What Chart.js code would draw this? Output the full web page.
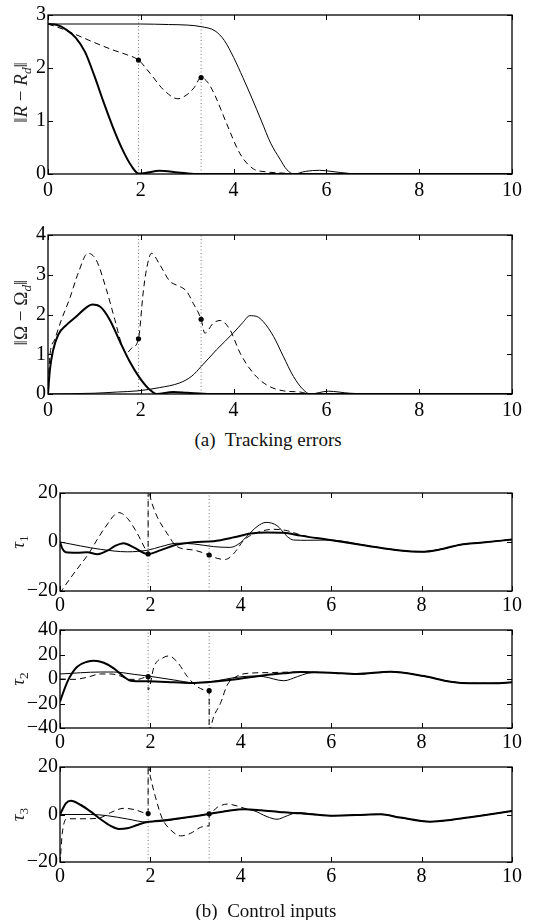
<!DOCTYPE html>
<html>
<head>
<meta charset="utf-8">
<script src="https://cdn.jsdelivr.net/npm/chart.js@4.4.1/dist/chart.umd.min.js"></script>
<style>
  body { margin: 0; background: #fff; width: 544px; height: 920px; position: relative; overflow: hidden;
         font-family: 'Liberation Serif', 'DejaVu Serif', serif; }
  canvas { position: absolute; left: 0; }
  .cap { position: absolute; text-align: center; font-size: 19px; line-height: 19px; color: #111; white-space: pre; }
</style>
</head>
<body>
<canvas id="c1" width="544" height="204" style="top:0px"></canvas>
<canvas id="c2" width="544" height="204" style="top:220px"></canvas>
<div class="cap" style="left:0;width:536px;top:430px">(a)  Tracking errors</div>
<canvas id="c3" width="544" height="143" style="top:478px"></canvas>
<canvas id="c4" width="544" height="143" style="top:615px"></canvas>
<canvas id="c5" width="544" height="140" style="top:752px"></canvas>
<div class="cap" style="left:0;width:532px;top:901px">(b)  Control inputs</div>

<script>
// switching instants (dotted lines and dots)
const switchT = [1.95, 3.3];
const xTicks = [0, 2, 4, 6, 8, 10];

// ||R - Rd||
const rThickT = [0, 0.2, 0.4, 0.6, 0.8, 1.0, 1.2, 1.4, 1.6, 1.8, 1.95, 2.1, 2.4, 2.8, 3.2, 10];
const rThickV = [2.83, 2.81, 2.72, 2.57, 2.3, 1.85, 1.35, 0.88, 0.47, 0.15, 0.01, 0.02, 0.06, 0.03, 0, 0];
const rThinT = [0, 2, 2.6, 3.0, 3.3, 3.6, 3.8, 4.0, 4.2, 4.4, 4.6, 4.8, 5.0, 5.15, 5.3, 5.55, 5.85, 6.1, 6.5, 7, 10];
const rThinV = [2.83, 2.83, 2.82, 2.81, 2.78, 2.7, 2.52, 2.2, 1.82, 1.42, 1.0, 0.58, 0.28, 0.08, 0, 0.05, 0.07, 0.05, 0.01, 0, 0];
const rDashT = [0, 0.3, 0.6, 1.0, 1.4, 1.7, 1.95, 2.2, 2.5, 2.8, 3.0, 3.15, 3.3, 3.45, 3.6, 3.85, 4.14, 4.42, 4.71, 5.0, 5.5, 10];
const rDashV = [2.83, 2.74, 2.63, 2.48, 2.34, 2.25, 2.15, 1.9, 1.58, 1.42, 1.5, 1.63, 1.82, 1.72, 1.48, 0.95, 0.38, 0.1, 0.04, 0.02, 0, 0];
const rDots = [2.15, 1.82];

// ||Omega - Omega_d||
const wThickT = [0, 0.04, 0.11, 0.22, 0.4, 0.61, 0.83, 0.95, 1.12, 1.33, 1.55, 1.76, 1.98, 2.19, 2.34, 2.7, 3.0, 3.5, 10];
const wThickV = [0, 0.6, 1.1, 1.49, 1.74, 1.95, 2.18, 2.25, 2.2, 1.87, 1.32, 0.82, 0.4, 0.11, 0, 0.05, 0.03, 0, 0];
const wThinT = [0, 1.0, 1.5, 1.94, 2.4, 2.84, 3.1, 3.3, 3.63, 3.99, 4.2, 4.35, 4.5, 4.64, 4.86, 5.07, 5.29, 5.5, 5.65, 6.04, 6.5, 7, 10];
const wThinV = [0, 0.02, 0.05, 0.08, 0.16, 0.28, 0.45, 0.69, 1.11, 1.53, 1.8, 1.97, 1.95, 1.82, 1.45, 0.95, 0.44, 0.11, 0, 0.07, 0.02, 0, 0];
const wDashT = [0, 0.04, 0.14, 0.29, 0.47, 0.65, 0.86, 1.04, 1.26, 1.44, 1.58, 1.69, 1.8, 1.95, 2.05, 2.12, 2.23, 2.41, 2.63, 2.77, 2.99, 3.13, 3.3, 3.38, 3.56, 3.71, 3.92, 4.14, 4.42, 4.71, 5.07, 5.43, 5.65, 10];
const wDashV = [0, 0.95, 1.36, 1.87, 2.41, 3.04, 3.54, 3.37, 2.62, 1.87, 1.28, 1.03, 1.15, 1.39, 2.54, 3.12, 3.54, 3.25, 2.83, 2.74, 2.58, 2.28, 1.88, 1.53, 1.78, 1.85, 1.62, 1.03, 0.53, 0.23, 0.08, 0.05, 0, 0];
const wDots = [1.39, 1.88];

// tau1
const t1ThickT = [0, 0.05, 0.13, 0.38, 0.6, 0.83, 1.05, 1.23, 1.41, 1.64, 1.95, 2.23, 2.59, 2.96, 3.4, 3.85, 4.22, 4.58, 4.95, 5.32, 5.98, 6.79, 7.53, 7.99, 8.42, 8.86, 9.3, 10];
const t1ThickV = [0, -2.6, -4.2, -4.4, -4.2, -5, -3.5, -1.5, -0.5, -2.3, -4.9, -3.3, -1, -0.1, 0.3, 1.9, 3.5, 3.9, 3.8, 2.6, 0.8, -1.5, -3.5, -4, -3, -1.1, -0.3, 1];
const t1ThinT = [0, 0.9, 1.49, 1.95, 2.23, 2.59, 2.96, 3.4, 3.77, 3.99, 4.14, 4.36, 4.56, 4.8, 5.03, 5.17, 5.47, 5.98, 6.79, 7.53, 7.99, 8.42, 8.86, 9.3, 10];
const t1ThinV = [0, -3, -4, -3.3, -1.9, -0.5, -0.8, -1.9, -2.2, -0.3, 2.4, 6.3, 8, 6.7, 2.2, 0.8, 0.7, 0.8, -1.5, -3.5, -4, -3, -1.1, -0.3, 1];
const t1DashT = [0, 0.05, 0.38, 0.64, 0.79, 1.0, 1.3, 1.49, 1.71, 1.86, 1.95, 1.95, 2.03, 2.15, 2.37, 2.59, 2.96, 3.3, 3.48, 3.66, 3.85, 4.07, 4.36, 4.73, 5.03, 5.32, 5.98, 6.79, 7.53, 7.99, 8.42, 8.86, 9.3, 10];
const t1DashV = [-21, -19.5, -11, -4.6, 0, 6, 12, 9.7, 3.5, -1.9, -4.9, 21, 16, 10.3, 3.5, -1.9, -3.3, -5.3, -6.7, -7.1, -4.6, 0.8, 3.8, 5.2, 4.6, 2.9, 0.8, -1.5, -3.5, -4, -3, -1.1, -0.3, 1];
const t1Dots = [-4.9, -5.3];

// tau2
const t2ThickT = [0, 0.09, 0.2, 0.38, 0.6, 0.75, 0.97, 1.19, 1.41, 1.56, 1.93, 2.52, 2.89, 3.26, 3.85, 4.29, 4.95, 5.32, 5.98, 6.57, 7.31, 8.05, 8.64, 9.08, 9.6, 10];
const t2ThickV = [-18.5, -9, 0.5, 10, 14.1, 15, 13.3, 8.7, 1.9, -1.4, -1.9, -2.7, -3.3, -2.7, -0.5, 1.9, 4.6, 5.7, 5.2, 4.1, 6, 2.4, -2.2, -3.5, -3.5, -2.7];
const t2ThinT = [0, 0.9, 1.19, 1.64, 1.95, 2.52, 2.96, 3.4, 3.85, 4.29, 4.51, 4.95, 5.25, 5.47, 5.76, 6.57, 7.31, 8.05, 8.64, 9.08, 9.6, 10];
const t2ThinV = [4.1, 5.7, 5.7, 3.8, 2.4, -0.8, -3, -1.9, 1.1, 2.4, 1.9, -1.4, 1.9, 4.6, 5.4, 4.1, 6, 2.4, -2.2, -3.5, -3.5, -2.7];
const t2DashT = [0, 0.31, 0.6, 0.9, 1.12, 1.34, 1.53, 1.71, 1.95, 1.95, 2.08, 2.3, 2.4, 2.59, 2.82, 3.04, 3.3, 3.3, 3.4, 3.55, 3.7, 3.92, 4.14, 4.58, 5.32, 5.98, 6.57, 7.31, 8.05, 8.64, 9.08, 9.6, 10];
const t2DashV = [0, -0.3, 1.4, 4.1, 4.1, 2.4, -0.3, -0.3, 1.9, -9, 10, 17.7, 18.8, 14.1, 1.9, -6.3, -9.5, -42, -30.7, -19.9, -4.9, 2.4, 4.6, 5.2, 5.7, 5.2, 4.1, 6, 2.4, -2.2, -3.5, -3.5, -2.7];
const t2Dots = [1.9, -9.5];

// tau3
const t3ThickT = [0, 0.13, 0.24, 0.46, 0.68, 0.9, 1.12, 1.3, 1.49, 1.71, 1.93, 2.37, 2.82, 3.29, 3.7, 4.07, 4.44, 4.95, 5.32, 5.98, 6.57, 7.09, 7.53, 8.19, 8.64, 9.15, 9.67, 10];
const t3ThickV = [0, 4.7, 5.8, 4, 1.2, -2, -4.8, -6.1, -5.8, -4.4, -3.2, -2.3, -1.2, 0.2, 1.5, 2.2, 1.8, 0.9, 0.5, -0.5, -0.2, 0.1, -1.3, -3, -2.3, -0.9, 0.5, 1.5];
const t3ThinT = [0, 0.68, 1.05, 1.49, 1.93, 2.37, 2.82, 3.29, 3.7, 4.07, 4.29, 4.58, 4.8, 5.03, 5.25, 5.69, 5.98, 6.57, 7.09, 7.53, 8.19, 8.64, 9.15, 9.67, 10];
const t3ThinV = [0, 0, -0.5, -1.9, -3.2, -2.6, -1.2, 0.2, 1.5, 2.2, 1.6, -0.9, -2, -0.5, 0.8, 0, -0.5, -0.2, 0.1, -1.3, -3, -2.3, -0.9, 0.5, 1.5];
const t3DashT = [0, 0.05, 0.16, 0.6, 0.9, 1.12, 1.41, 1.64, 1.95, 1.95, 2.0, 2.11, 2.26, 2.45, 2.67, 2.89, 3.11, 3.3, 3.3, 3.48, 3.7, 3.92, 4.14, 4.44, 4.95, 5.32, 5.98, 6.57, 7.09, 7.53, 8.19, 8.64, 9.15, 9.67, 10];
const t3DashV = [-21, -8, -1.8, -1.8, -1.3, 0.8, 2.6, 2.1, 0.4, 21, 15.9, 7.5, -1.6, -6.5, -9, -7.9, -5.4, -4.8, 0.3, 3, 4.4, 3.6, 2.3, 1.8, 0.9, 0.5, -0.5, -0.2, 0.1, -1.3, -3, -2.3, -0.9, 0.5, 1.5];
const t3Dots = [0.4, 0.3];

const FONT = "'Liberation Serif', 'DejaVu Serif', serif";

function pts(t, v) {
  return t.map((x, i) => ({ x, y: v[i] }));
}

// rotated y label, parts can be italic (i) or subscript (sub)
function drawLabel(ctx, parts, cx, cy, size) {
  const fontOf = p => (p.i ? 'italic ' : '') + (p.sub ? size * 0.7 : size) + 'px ' + FONT;
  let total = 0;
  parts.forEach(p => { ctx.font = fontOf(p); p.w = ctx.measureText(p.t).width; total += p.w; });
  ctx.save();
  ctx.translate(cx, cy);
  ctx.rotate(-Math.PI / 2);
  ctx.fillStyle = '#222';
  ctx.textBaseline = 'alphabetic';
  let x = -total / 2;
  parts.forEach(p => {
    ctx.font = fontOf(p);
    ctx.fillText(p.t, x, size * 0.33 + (p.sub ? size * 0.22 : 0));
    x += p.w;
  });
  ctx.restore();
}

// box + inward ticks on all four sides, matlab style
const frame = {
  id: 'frame',
  afterDatasetsDraw(chart, args, opts) {
    const { ctx, chartArea: a, scales: { x, y } } = chart;
    ctx.save();
    ctx.strokeStyle = '#000';
    ctx.lineWidth = 1;
    ctx.beginPath();
    x.ticks.forEach(t => {
      const px = Math.round(x.getPixelForValue(t.value)) + 0.5;
      ctx.moveTo(px, a.bottom); ctx.lineTo(px, a.bottom - 5);
      ctx.moveTo(px, a.top); ctx.lineTo(px, a.top + 5);
    });
    y.ticks.forEach(t => {
      const py = Math.round(y.getPixelForValue(t.value)) + 0.5;
      ctx.moveTo(a.left, py); ctx.lineTo(a.left + 5, py);
      ctx.moveTo(a.right, py); ctx.lineTo(a.right - 5, py);
    });
    ctx.stroke();
    ctx.lineWidth = 1.3;
    ctx.strokeRect(a.left, a.top, a.right - a.left, a.bottom - a.top);
    ctx.restore();
    drawLabel(ctx, opts.label, opts.lx, opts.ly + (a.top + a.bottom) / 2, opts.size);
  }
};

function makePanel(id, p) {
  const line = (t, v, w, dash) => ({
    data: pts(t, v), borderColor: '#000', borderWidth: w, borderDash: dash,
    pointRadius: 0, cubicInterpolationMode: 'monotone', fill: false
  });
  const datasets = [
    { data: pts(switchT, p.dots), showLine: false, pointRadius: 2.6, pointBackgroundColor: '#000', pointBorderWidth: 0 },
    line(p.thick[0], p.thick[1], 2, []),
    line(p.thin[0], p.thin[1], 1, []),
    line(p.dash[0], p.dash[1], 1, [6, 4]),
  ];
  switchT.forEach(s => datasets.push({
    data: [{ x: s, y: p.min }, { x: s, y: p.max }], borderColor: '#777', borderWidth: 1,
    borderDash: [1, 2.5], pointRadius: 0, tension: 0
  }));
  const tickFont = { family: FONT, size: 20 };
  const minus = v => v < 0 ? '\u2212' + Math.abs(v) : String(v);
  return new Chart(document.getElementById(id), {
    type: 'line',
    data: { datasets },
    options: {
      responsive: false,
      animation: false,
      events: [],
      layout: { padding: { top: 15, right: 32, left: 0, bottom: 0 } },
      plugins: {
        legend: { display: false },
        tooltip: { enabled: false },
        frame: { label: p.label, lx: p.lx, ly: p.ly, size: p.size }
      },
      scales: {
        x: {
          type: 'linear', min: 0, max: 10,
          afterBuildTicks: s => { s.ticks = xTicks.map(v => ({ value: v })); },
          afterFit: s => { s.height = 30; },
          grid: { display: false, drawTicks: false }, border: { display: false },
          ticks: { font: tickFont, color: '#000', padding: p.xpad, maxRotation: 0, autoSkip: false }
        },
        y: {
          min: p.min, max: p.max,
          afterBuildTicks: s => { s.ticks = p.yTicks.map(v => ({ value: v })); },
          afterFit: s => { s.width = p.left; },
          grid: { display: false, drawTicks: false }, border: { display: false },
          ticks: { font: tickFont, color: '#000', padding: 2, callback: minus, autoSkip: false }
        }
      }
    },
    plugins: [frame]
  });
}

const normLabel = sym => [
  { t: '\u2016' }, { t: sym, i: sym === 'R' }, { t: ' \u2212 ' },
  { t: sym, i: sym === 'R' }, { t: 'd', i: true, sub: true }, { t: '\u2016' }
];
const tauLabel = n => [{ t: '\u03c4', i: true }, { t: String(n), sub: true }];

makePanel('c1', {
  thick: [rThickT, rThickV], thin: [rThinT, rThinV], dash: [rDashT, rDashV], dots: rDots,
  min: 0, max: 3, yTicks: [0, 1, 2, 3], left: 48, xpad: 5, label: normLabel('R'), lx: 21, ly: -2, size: 19
});
makePanel('c2', {
  thick: [wThickT, wThickV], thin: [wThinT, wThinV], dash: [wDashT, wDashV], dots: wDots,
  min: 0, max: 4, yTicks: [0, 1, 2, 3, 4], left: 48, xpad: 5, label: normLabel('\u03a9'), lx: 21, ly: -2, size: 19
});
makePanel('c3', {
  thick: [t1ThickT, t1ThickV], thin: [t1ThinT, t1ThinV], dash: [t1DashT, t1DashV], dots: t1Dots,
  min: -20, max: 20, yTicks: [-20, 0, 20], left: 60, xpad: 3, label: tauLabel(1), lx: 18, ly: 0, size: 19
});
makePanel('c4', {
  thick: [t2ThickT, t2ThickV], thin: [t2ThinT, t2ThinV], dash: [t2DashT, t2DashV], dots: t2Dots,
  min: -40, max: 40, yTicks: [-40, -20, 0, 20, 40], left: 60, xpad: 3, label: tauLabel(2), lx: 18, ly: 0, size: 19
});
makePanel('c5', {
  thick: [t3ThickT, t3ThickV], thin: [t3ThinT, t3ThinV], dash: [t3DashT, t3DashV], dots: t3Dots,
  min: -20, max: 20, yTicks: [-20, 0, 20], left: 60, xpad: 3, label: tauLabel(3), lx: 18, ly: 0, size: 19
});
</script>
</body>
</html>
